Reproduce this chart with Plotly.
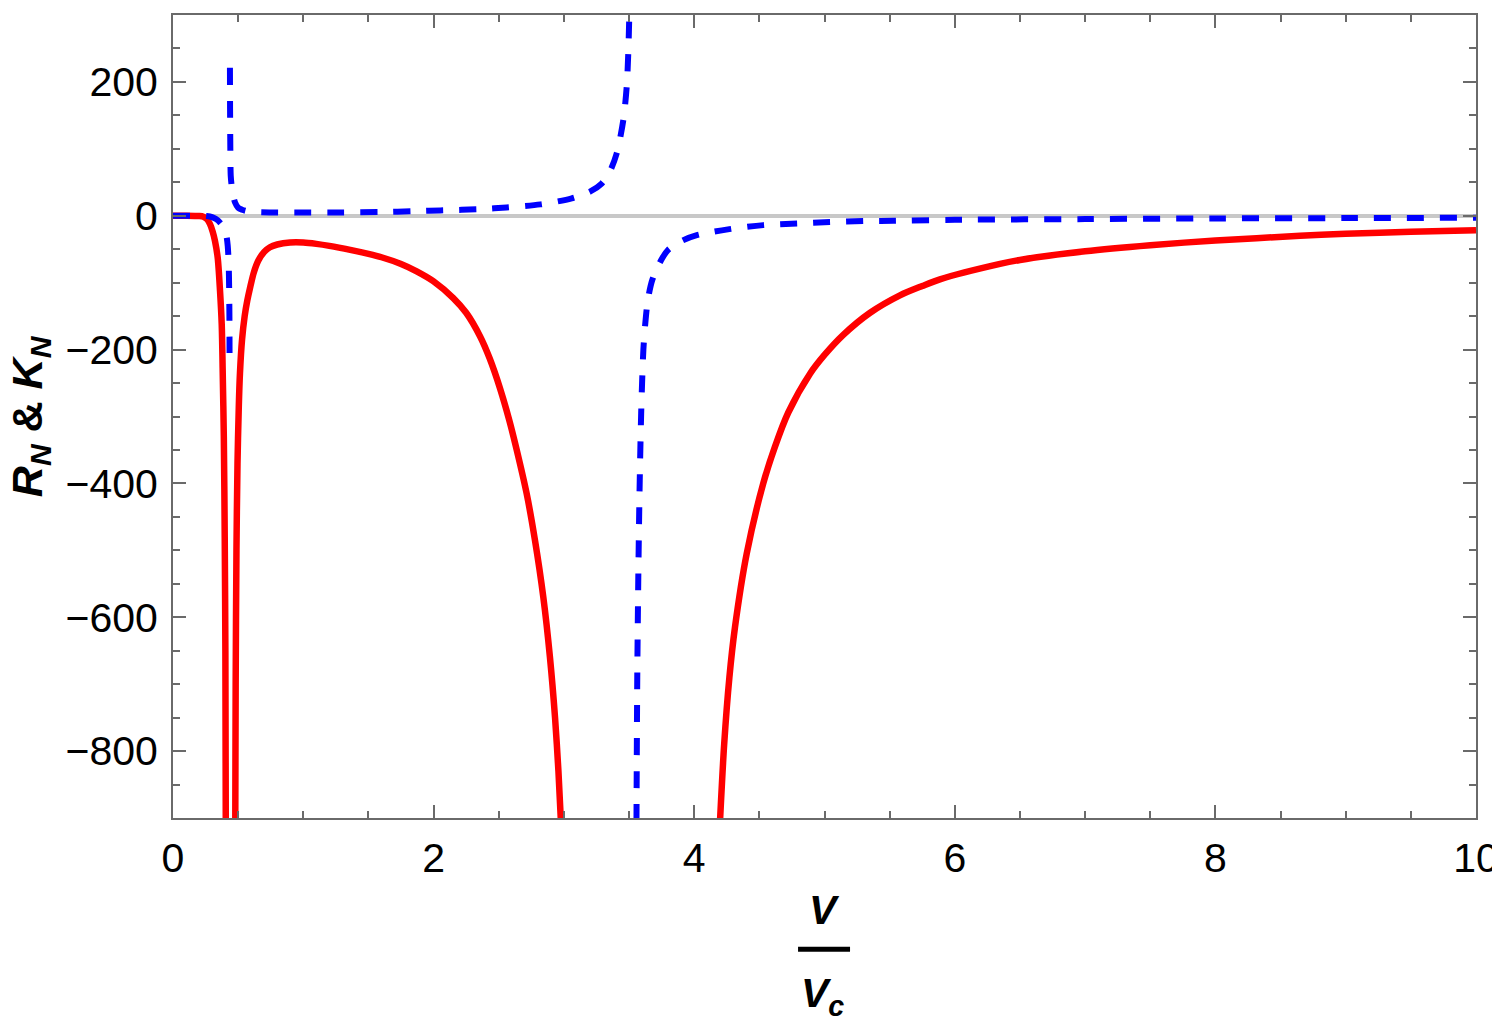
import plotly.graph_objects as go

# ---------------- data ----------------
# Red solid curve (three branches separated by poles)
red_x1 = [0, 0.1, 0.2, 0.233, 0.26, 0.284, 0.305, 0.322, 0.343, 0.361, 0.374, 0.381, 0.39, 0.397, 0.402, 0.405]
red_y1 = [0, 0, -0.5, -1.5, -5, -12.5, -24, -37.5, -62.6, -112.6, -162.6, -228, -330, -480, -650, -905]

red_x2 = [0.478, 0.481, 0.487, 0.495, 0.505, 0.514, 0.53, 0.55, 0.57, 0.591, 0.62, 0.655, 0.7, 0.744, 0.8,
          0.898, 1.0, 1.1, 1.2, 1.36, 1.5, 1.6, 1.75, 1.87, 2.0, 2.151, 2.25, 2.356, 2.43, 2.51, 2.58,
          2.638, 2.714, 2.778, 2.842, 2.893, 2.932, 2.958, 2.977]
red_y2 = [-905, -700, -500, -370, -285, -235, -185, -150, -127, -108, -85, -67, -54, -47, -43,
          -40, -40, -42, -45, -51, -57, -62, -72, -83, -98, -123, -145, -180, -213, -258, -305,
          -350, -415, -485, -570, -660, -750, -830, -905]

red_x3 = [4.198, 4.23, 4.27, 4.313, 4.403, 4.53, 4.62, 4.722, 4.889, 5.0, 5.144, 5.35, 5.579, 5.75, 5.886,
          6.347, 6.5, 7.0, 7.5, 8.0, 8.65, 9.0, 9.5, 10]
red_y3 = [-905, -790, -690, -615, -505, -400, -345, -294, -236, -208, -178, -145, -119, -105, -95,
          -72, -66, -53, -44, -37, -30, -27, -24, -21.5]

# Blue dashed curve (three branches)
blue_x1 = [0, 0.2, 0.258, 0.3, 0.33, 0.36, 0.39, 0.41, 0.42, 0.427, 0.431, 0.433, 0.434]
blue_y1 = [0, 0, -0.5, -2, -5, -10, -18, -30, -45, -70, -110, -150, -205]

blue_x2 = [0.437, 0.438, 0.44, 0.443, 0.45, 0.46, 0.476, 0.5, 0.53, 0.566, 0.65, 0.77, 1.0, 1.3, 1.59,
           1.87, 2.05, 2.38, 2.56, 2.82, 3.06, 3.2, 3.29, 3.35, 3.405, 3.456, 3.482, 3.494, 3.502]
blue_y2 = [221, 160, 100, 60, 45, 32, 20, 12, 9, 7, 5.5, 5, 5, 5, 5.5,
           7, 8, 10, 12.5, 17, 26, 36, 48, 65, 93, 143, 193, 243, 300]

blue_x3 = [3.557, 3.563, 3.571, 3.579, 3.586, 3.593, 3.6, 3.61, 3.625, 3.645, 3.68, 3.75, 3.8, 3.9, 4.02,
           4.27, 4.53, 4.79, 5.04, 5.3, 5.53, 6, 7, 8, 9, 10]
blue_y3 = [-905, -690, -540, -430, -355, -295, -250, -200, -160, -125, -95, -65, -51, -38, -29,
           -20, -14, -11.5, -9.5, -8, -7.5, -6, -5, -4, -3.5, -3]

x_ticks = [0, 2, 4, 6, 8, 10]
y_ticks = [-800, -600, -400, -200, 0, 200]

# ---------------- figure ----------------
RED = "#ff0000"
BLUE = "#0000ff"
FRAME = "#6a6a6a"
FONT = "Liberation Sans, Arial, sans-serif"

fig = go.Figure()
for xs, ys in [(red_x1, red_y1), (red_x2, red_y2), (red_x3, red_y3)]:
    fig.add_trace(go.Scatter(x=xs, y=ys, mode="lines",
                             line=dict(color=RED, width=6.5, shape="spline", smoothing=0.8),
                             showlegend=False, hoverinfo="skip"))
for xs, ys in [(blue_x1, blue_y1), (blue_x2, blue_y2), (blue_x3, blue_y3)]:
    fig.add_trace(go.Scatter(x=xs, y=ys, mode="lines",
                             line=dict(color=BLUE, width=6, dash="17px,16px", shape="spline", smoothing=0.8),
                             showlegend=False, hoverinfo="skip"))

axis_common = dict(
    showgrid=False, automargin=False,
    showline=True, linecolor=FRAME, linewidth=2, mirror="allticks",
    ticks="inside", ticklen=13, tickwidth=1.5, tickcolor=FRAME,
    tickfont=dict(family=FONT, size=41, color="black"),
)

fig.update_xaxes(range=[0, 10], tickvals=x_ticks, zeroline=False,
                 minor=dict(ticks="inside", ticklen=7, dtick=0.5, tickwidth=1.5, tickcolor=FRAME),
                 ticklabelstandoff=3, **axis_common)
fig.update_yaxes(range=[-900, 300], tickvals=y_ticks,
                 zeroline=True, zerolinecolor="#c8c8c8", zerolinewidth=4,
                 minor=dict(ticks="inside", ticklen=7, dtick=50, tickwidth=1.5, tickcolor=FRAME),
                 ticklabelstandoff=5, **axis_common)

fig.update_layout(
    width=1500, height=1025,
    margin=dict(l=165, r=32, t=7, b=215),
    paper_bgcolor="white", plot_bgcolor="white",
    font=dict(family=FONT, color="black"),
)

# Axis titles
fig.add_annotation(
    text="<b><i>R</i><sub><i>N</i></sub> &amp; <i>K</i><sub><i>N</i></sub></b>",
    xref="paper", yref="paper", x=-0.110, y=0.5, xanchor="center", yanchor="middle",
    textangle=-90, showarrow=False, font=dict(family=FONT, size=43, color="black"))
fig.add_annotation(
    text="<b><i>V</i></b>", xref="paper", yref="paper", x=0.5, y=-0.1146,
    xanchor="center", yanchor="middle", showarrow=False,
    font=dict(family=FONT, size=41, color="black"))
fig.add_annotation(
    text="<b><i>V<sub>c</sub></i></b>", xref="paper", yref="paper", x=0.4985, y=-0.222,
    xanchor="center", yanchor="middle", showarrow=False,
    font=dict(family=FONT, size=41, color="black"))
fig.add_shape(type="line", xref="paper", yref="paper",
              x0=0.4797, x1=0.5196, y0=-0.1635, y1=-0.1635,
              line=dict(color="black", width=5))

fig.write_html("out.html")
